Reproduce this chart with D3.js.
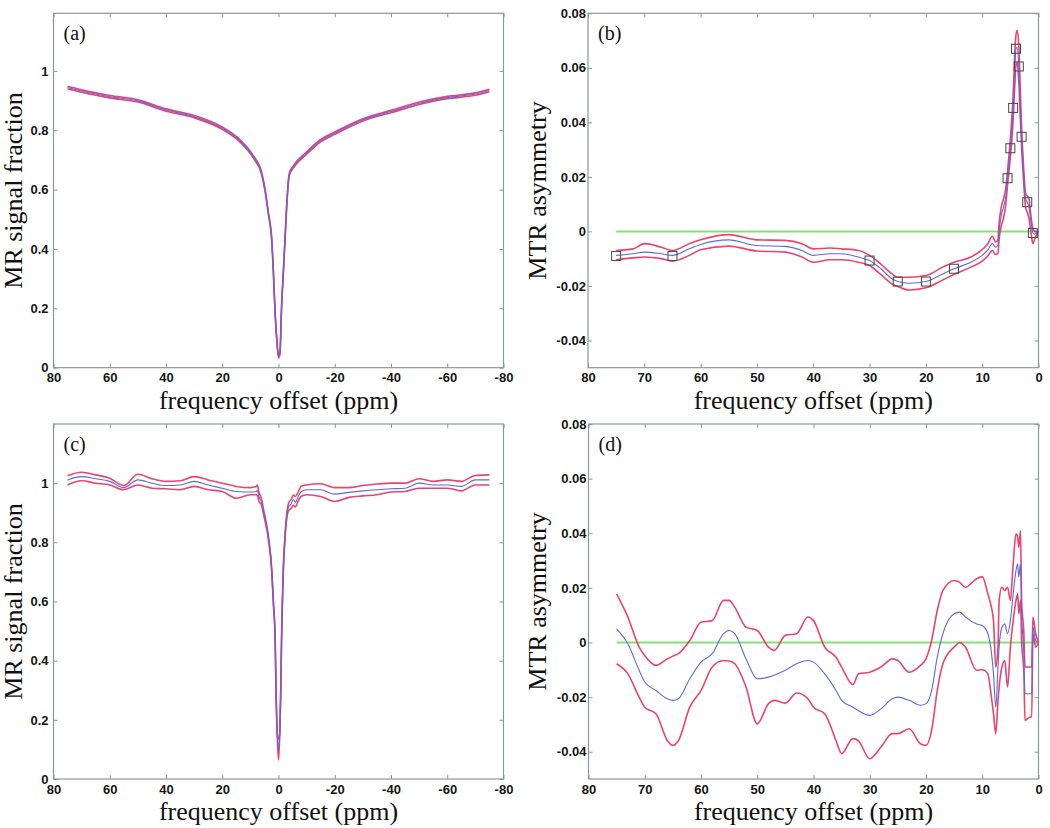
<!DOCTYPE html>
<html><head><meta charset="utf-8">
<script src="https://cdn.jsdelivr.net/npm/d3@7"></script>
<style>body{margin:0;background:#fff} svg{display:block}</style>
</head><body>
<svg id="chart" width="1050" height="828"></svg>
<script>
// ---------- Panel (a): Z-spectrum, phantom ----------
const aX = [75,70,60,50,40,30,20,14,9,6,4.8,3.6,2.4,1.8,1.2,0.6,0,-0.5,-1.1,-1.7,-2.3,-2.9,-3.8,-5.3,-10,-15,-20,-30,-40,-50,-60,-70,-75];
const aMean  = [0.944,0.932,0.913,0.899,0.868,0.846,0.807,0.767,0.711,0.655,0.599,0.52,0.43,0.318,0.183,0.093,0.037,0.048,0.206,0.318,0.43,0.543,0.65,0.677,0.723,0.765,0.790,0.835,0.863,0.891,0.910,0.922,0.934];
const aUpper = [0.948,0.936,0.917,0.903,0.872,0.850,0.811,0.771,0.715,0.659,0.603,0.524,0.434,0.322,0.187,0.097,0.041,0.052,0.210,0.322,0.434,0.547,0.654,0.681,0.727,0.769,0.794,0.839,0.867,0.895,0.914,0.926,0.938];
const aLower = [0.940,0.928,0.909,0.895,0.864,0.842,0.803,0.763,0.707,0.651,0.595,0.516,0.426,0.314,0.179,0.089,0.033,0.044,0.202,0.314,0.426,0.539,0.646,0.673,0.719,0.761,0.786,0.831,0.859,0.887,0.906,0.918,0.930];

// ---------- Panel (b): MTR asymmetry ----------
const bX = [75,72,70,67,65,62,60,55,50,45,42,40,37,35,32,30,28,26,25,23,20,17,15,12,10,9,8.2,7.6,7.2,7,6.6,6.2,5.8,5.5,5,4.5,4.2,4,3.8,3.5,3.2,3,2.6,2.3,2,1.7,1.3,1,0.7,0.3,0];
const bMean  = [-0.0088,-0.0082,-0.0076,-0.0082,-0.0088,-0.0064,-0.0048,-0.0031,-0.0052,-0.0055,-0.007,-0.0088,-0.0082,-0.0082,-0.0094,-0.0107,-0.0137,-0.0174,-0.0184,-0.019,-0.0184,-0.0156,-0.0137,-0.0113,-0.0088,-0.0068,-0.0045,-0.0058,-0.005,0.0,0.006,0.009,0.013,0.0195,0.0305,0.0453,0.060,0.067,0.0675,0.0605,0.045,0.0347,0.02,0.012,0.0107,0.009,0.003,-0.0006,-0.001,-0.0005,0];
const bUpper = [-0.007,-0.0064,-0.0045,-0.0058,-0.007,-0.0045,-0.0031,-0.0012,-0.0031,-0.0033,-0.0045,-0.0064,-0.0061,-0.0064,-0.007,-0.0088,-0.012,-0.0156,-0.0168,-0.0168,-0.0162,-0.0131,-0.0113,-0.0094,-0.0067,-0.0045,-0.0018,-0.004,-0.003,0.003,0.009,0.012,0.016,0.022,0.034,0.050,0.066,0.072,0.0737,0.068,0.050,0.038,0.022,0.014,0.013,0.012,0.005,0.001,0.0,0.0,0];
const bLower = [-0.0104,-0.0097,-0.0094,-0.01,-0.0109,-0.0088,-0.0067,-0.0054,-0.0072,-0.0076,-0.0094,-0.0113,-0.0104,-0.0104,-0.0113,-0.0125,-0.0158,-0.0193,-0.0202,-0.0215,-0.0207,-0.0178,-0.0158,-0.0131,-0.0109,-0.009,-0.007,-0.0085,-0.008,-0.003,0.002,0.005,0.010,0.017,0.027,0.041,0.054,0.061,0.062,0.055,0.040,0.031,0.017,0.009,0.007,0.005,-0.001,-0.0045,-0.003,-0.001,0];
const bMarkX = [75,65,30,25,20,15,5.5,5,4.5,4,3.5,3,2,1];
const bMarkY = [-0.009,-0.009,-0.0107,-0.0184,-0.0184,-0.0137,0.0195,0.0305,0.0453,0.067,0.0605,0.0347,0.0107,-0.0006];

// ---------- Panel (c): Z-spectrum, tissue ----------
const cX = [75,70,65,60,55,50,45,40,35,30,25,20,15,10,8,7.5,7,6,5.4,3.6,2.4,1.8,1.2,0.9,0.4,0,-0.4,-0.8,-1.1,-1.7,-2.3,-3.5,-4.5,-5.3,-6,-7,-8,-10,-15,-20,-25,-30,-35,-40,-45,-50,-55,-60,-65,-70,-75];
const cMean  = [1.011,1.022,1.015,1.006,0.985,1.011,1.0,0.992,0.994,1.006,0.994,0.983,0.972,0.970,0.972,0.975,0.955,0.935,0.907,0.817,0.705,0.593,0.48,0.311,0.143,0.10,0.143,0.30,0.48,0.705,0.817,0.918,0.93,0.945,0.935,0.955,0.97,0.978,0.978,0.963,0.969,0.974,0.978,0.981,0.983,1.0,0.994,0.994,0.989,1.011,1.011];
const cUpper = [1.025,1.037,1.028,1.017,0.992,1.03,1.015,1.006,1.008,1.022,1.011,1.0,0.989,0.985,0.989,0.994,0.97,0.945,0.915,0.822,0.71,0.6,0.485,0.318,0.15,0.135,0.15,0.31,0.49,0.71,0.822,0.93,0.945,0.96,0.955,0.97,0.989,0.994,0.998,0.985,0.985,0.992,0.997,1.0,1.0,1.015,1.006,1.011,1.006,1.026,1.028];
const cLower = [0.994,1.008,1.0,0.994,0.978,0.994,0.983,0.981,0.978,0.989,0.978,0.972,0.949,0.961,0.961,0.958,0.94,0.925,0.898,0.81,0.70,0.585,0.475,0.305,0.135,0.064,0.135,0.29,0.47,0.70,0.81,0.905,0.915,0.925,0.92,0.94,0.955,0.961,0.955,0.938,0.952,0.957,0.961,0.970,0.972,0.983,0.983,0.983,0.974,0.994,0.994];

// ---------- Panel (d): MTR asymmetry, tissue ----------
const dX = [75,73,71,70,68,66,65,64,62,60,58,56,55,54,52,50,48,47,45,43,41,40,38,36,35,33,32,30,28,26,25,23,21,20,19,18,17,15,14,13,11,10,9,8.5,8,7.6,7.2,7,6.5,6,5.5,5,4.5,4,3.7,3.5,3.2,3,2.6,2.4,1.5,1.2,1,0.5,0];
const dMean  = [0.005,-0.0005,-0.0102,-0.0145,-0.0176,-0.0206,-0.0212,-0.0206,-0.0133,-0.0072,-0.0041,0.0032,0.0044,0.0032,-0.006,-0.0133,-0.0127,-0.012,-0.0102,-0.0078,-0.0066,-0.0072,-0.0115,-0.0176,-0.0212,-0.0237,-0.025,-0.0267,-0.0243,-0.0206,-0.02,-0.0212,-0.023,-0.0224,-0.0176,-0.0054,0.0032,0.0105,0.0111,0.0093,0.0068,0.0062,0.0032,-0.0017,-0.0115,-0.0237,-0.009,-0.0017,0.0056,0.0068,0.0032,0.008,0.0178,0.0263,0.0288,0.024,0.0288,0.0105,-0.0041,-0.0188,-0.0188,-0.0188,0.0056,0.0007,0];
const dUpper = [0.0178,0.0093,-0.0017,-0.0048,-0.0084,-0.006,-0.005,-0.0041,0.0007,0.0074,0.008,0.0154,0.0154,0.0129,0.0056,0.0044,-0.0017,-0.0029,0.0026,0.0032,0.0093,0.008,-0.0017,-0.0054,-0.009,-0.0154,-0.0115,-0.0109,-0.009,-0.006,-0.0066,-0.0109,-0.0084,-0.006,0.0007,0.0117,0.019,0.0227,0.022,0.0202,0.0233,0.0241,0.0178,0.014,0.008,-0.009,-0.0017,0.0154,0.0202,0.019,0.0202,0.0154,0.0288,0.0398,0.0385,0.0349,0.041,0.0154,0.0032,-0.009,-0.009,-0.009,0.0093,0.0032,0];
const dLower = [-0.0078,-0.0115,-0.02,-0.0237,-0.0261,-0.0359,-0.0377,-0.0359,-0.0237,-0.0176,-0.009,-0.0066,-0.0068,-0.0078,-0.0163,-0.0298,-0.0224,-0.0212,-0.0222,-0.0185,-0.0206,-0.0237,-0.0261,-0.0359,-0.0407,-0.0352,-0.036,-0.0426,-0.0383,-0.0334,-0.0334,-0.0316,-0.0371,-0.0377,-0.0322,-0.0176,-0.0078,-0.0017,0,-0.0017,-0.0102,-0.01,-0.0115,-0.018,-0.0261,-0.0334,-0.0212,-0.0163,-0.009,-0.0066,-0.0163,-0.0017,0.008,0.0154,0.0178,0.0105,0.0154,0.0007,-0.0115,-0.0285,-0.0273,-0.0273,0.0032,-0.0017,0];

// ---------- ticks / labels ----------
const zXTicks = [80,60,40,20,0,-20,-40,-60,-80];
const zYTicks = [0,0.2,0.4,0.6,0.8,1];
const asymXTicks = [80,70,60,50,40,30,20,10,0];
const asymYTicks = [-0.04,-0.02,0,0.02,0.04,0.06,0.08];
const refLineX = [75,0];
const refLineY = [0,0];
const xLabel = "frequency offset (ppm)";

const RED = "#e8305f", BLUE = "#5a6be0", GREEN = "#86e276", BOX = "#8a9898";

const panels = [
  {tag:"(a)", xs:aX, mean:aMean, up:aUpper, lo:aLower, L:53.5, R:503.5, T:13.3, B:367.7, xd:[80,-80], yd:[0,1.194], xt:zXTicks, yt:zYTicks, ylab:"MR signal fraction", pad:5, ylx:22},
  {tag:"(b)", xs:bX, mean:bMean, up:bUpper, lo:bLower, L:588, R:1038.5, T:13.3, B:367.7, xd:[80,0], yd:[-0.05,0.08], xt:asymXTicks, yt:asymYTicks, ylab:"MTR asymmetry", pad:2, ylx:546, ref:true, marks:true},
  {tag:"(c)", xs:cX, mean:cMean, up:cUpper, lo:cLower, L:53.5, R:503.5, T:424, B:779, xd:[80,-80], yd:[0,1.2], xt:zXTicks, yt:zYTicks, ylab:"MR signal fraction", pad:5, ylx:22},
  {tag:"(d)", xs:dX, mean:dMean, up:dUpper, lo:dLower, L:588.5, R:1038.5, T:424, B:779, xd:[80,0], yd:[-0.05,0.08], xt:asymXTicks, yt:asymYTicks, ylab:"MTR asymmetry", pad:2, ylx:546, ref:true}
];

const svg = d3.select("#chart");
const fmt = d => String(d);

panels.forEach(p => {
  const x = d3.scaleLinear().domain(p.xd).range([p.L, p.R]);
  const y = d3.scaleLinear().domain(p.yd).range([p.B, p.T]);
  const g = svg.append("g");

  const styleAxis = (sel, labels) => {
    sel.select(".domain").remove();
    sel.selectAll(".tick line").attr("stroke", BOX);
    if (!labels) { sel.selectAll(".tick text").remove(); return; }
    sel.selectAll(".tick text")
      .attr("fill", "#151515")
      .style("font-family", "'Liberation Sans', Arial, sans-serif")
      .style("font-weight", "bold")
      .style("font-size", "13px");
  };
  g.append("g").attr("transform", `translate(0,${p.B})`)
    .call(d3.axisBottom(x).tickValues(p.xt).tickFormat(fmt).tickSizeInner(-4).tickSizeOuter(0).tickPadding(5.5))
    .call(s => styleAxis(s, true));
  g.append("g").attr("transform", `translate(0,${p.T})`)
    .call(d3.axisTop(x).tickValues(p.xt).tickSizeInner(-4).tickSizeOuter(0))
    .call(s => styleAxis(s, false));
  g.append("g").attr("transform", `translate(${p.L},0)`)
    .call(d3.axisLeft(y).tickValues(p.yt).tickFormat(fmt).tickSizeInner(-4).tickSizeOuter(0).tickPadding(p.pad))
    .call(s => styleAxis(s, true));
  g.append("g").attr("transform", `translate(${p.R},0)`)
    .call(d3.axisRight(y).tickValues(p.yt).tickSizeInner(-4).tickSizeOuter(0))
    .call(s => styleAxis(s, false));

  g.append("rect").attr("x", p.L).attr("y", p.T)
    .attr("width", p.R - p.L).attr("height", p.B - p.T)
    .attr("fill", "none").attr("stroke", BOX).attr("stroke-width", 1.2);

  if (p.ref) {
    g.append("path")
      .datum(refLineX.map((v, i) => [v, refLineY[i]]))
      .attr("d", d3.line().x(d => x(d[0])).y(d => y(d[1])))
      .attr("stroke", GREEN).attr("stroke-width", 2).attr("fill", "none");
  }

  const line = d3.line().x(d => x(d[0])).y(d => y(d[1])).curve(d3.curveMonotoneX);
  const series = arr => p.xs.map((v, i) => [v, arr[i]]);
  [p.up, p.lo].forEach(arr => {
    g.append("path").datum(series(arr)).attr("d", line)
      .attr("fill", "none").attr("stroke", RED).attr("stroke-width", 1.6).attr("stroke-opacity", 0.9);
  });
  g.append("path").datum(series(p.mean)).attr("d", line)
    .attr("fill", "none").attr("stroke", BLUE).attr("stroke-width", 1.1);

  if (p.marks) {
    g.selectAll("rect.mk").data(bMarkX.map((v, i) => [v, bMarkY[i]])).enter()
      .append("rect").attr("class", "mk")
      .attr("x", d => x(d[0]) - 4.5).attr("y", d => y(d[1]) - 4.5)
      .attr("width", 9).attr("height", 9)
      .attr("fill", "none").attr("stroke", "#404a44").attr("stroke-width", 1);
  }

  g.append("text").attr("x", p.L + 10).attr("y", p.T + 27)
    .style("font-family", "'Liberation Serif', 'Times New Roman', serif")
    .style("font-size", "20px").attr("fill", "#111").text(p.tag);

  g.append("text").attr("x", (p.L + p.R) / 2).attr("y", p.B + 41)
    .attr("text-anchor", "middle")
    .style("font-family", "'Liberation Serif', 'Times New Roman', serif")
    .style("font-size", "26px").attr("fill", "#111").text(xLabel);
  g.append("text")
    .attr("transform", `translate(${p.ylx},${(p.T + p.B) / 2}) rotate(-90)`)
    .attr("text-anchor", "middle")
    .style("font-family", "'Liberation Serif', 'Times New Roman', serif")
    .style("font-size", "26px").attr("fill", "#111").text(p.ylab);
});
</script>
</body></html>
